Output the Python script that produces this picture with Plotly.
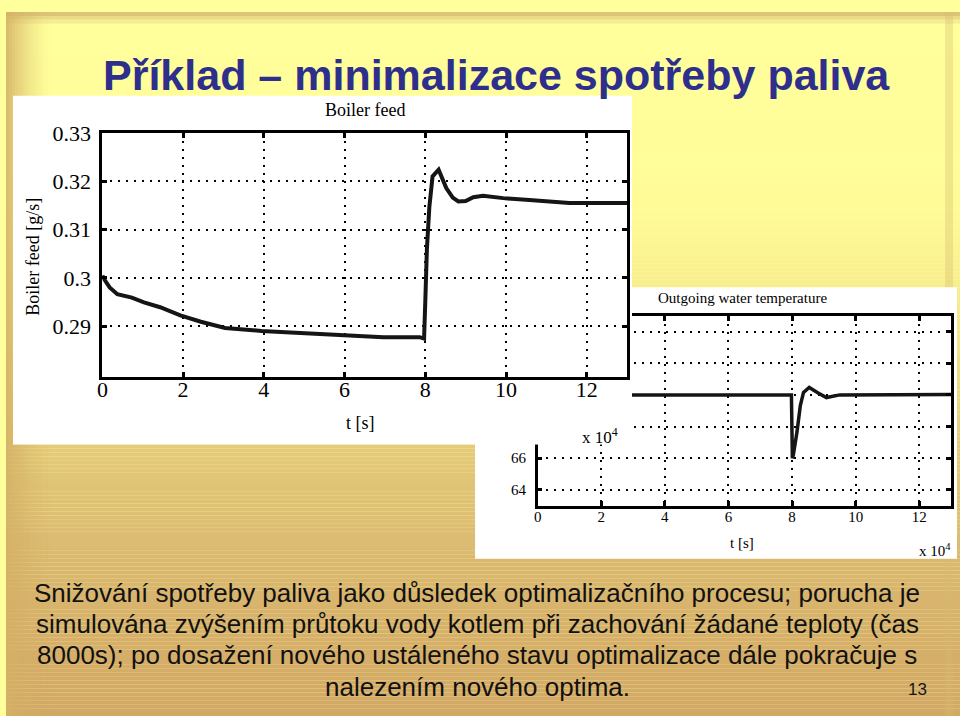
import plotly.graph_objects as go

W, H = 960, 716

# ---------------- data ----------------
# Boiler feed [g/s] vs t [x 1e4 s]
boiler_t = [0.0, 0.02, 0.18, 0.37, 0.73, 1.03, 1.43, 1.93, 2.44, 3.04, 3.94, 4.95,
            5.96, 6.96, 7.86, 7.97, 8.0, 8.04, 8.1, 8.18, 8.33, 8.52, 8.68, 8.82,
            9.0, 9.19, 9.43, 9.93, 10.58, 11.16, 11.57, 12.4, 13.0]
boiler_v = [0.3005, 0.300, 0.298, 0.2966, 0.2959, 0.2949, 0.2939, 0.2922, 0.2909,
            0.2896, 0.2890, 0.2885, 0.2880, 0.2877, 0.2877, 0.2874, 0.2950, 0.3060,
            0.3146, 0.3210, 0.3224, 0.3186, 0.3166, 0.3158, 0.3159, 0.3167, 0.3170,
            0.3165, 0.3161, 0.3158, 0.3155, 0.3155, 0.3155]

# Outgoing water temperature vs t [x 1e4 s]
temp_t = [0.0, 3.0, 6.8, 7.5, 7.9, 7.98, 8.01, 8.04, 8.155, 8.26, 8.36, 8.54,
          8.82, 9.08, 9.5, 11.0, 13.0]
temp_v = [70.0, 70.0, 70.0, 70.05, 70.05, 70.0, 66.0, 66.2, 67.66, 69.33, 70.16,
          70.47, 70.12, 69.83, 70.0, 70.02, 70.02]

t_ticks = [0, 2, 4, 6, 8, 10, 12]
boiler_ticks = [0.29, 0.30, 0.31, 0.32, 0.33]
boiler_ticktext = ["0.29", "0.3", "0.31", "0.32", "0.33"]
temp_ticks = [64, 66, 68, 70, 72, 74]
# labels of 68..74 are covered by the overlapping left picture in the slide
temp_ticktext = ["64", "66", "", "", "", ""]

slide_title = "Příklad – minimalizace spotřeby paliva"
body_lines = [
    "Snižování spotřeby paliva jako důsledek optimalizačního procesu; porucha je",
    "simulována zvýšením průtoku vody kotlem při zachování žádané teploty (čas",
    "8000s); po dosažení nového ustáleného stavu optimalizace dále pokračuje s",
    "nalezením nového optima.",
]
page_no = "13"

# ---------------- helpers ----------------
def px(x):
    return x / W

def py(y):
    return 1 - y / H

SERIF = "Liberation Serif, DejaVu Serif, serif"
SANS = "Liberation Sans, Arial, sans-serif"

def lerp(c1, c2, f):
    return tuple(round(a + (b - a) * f) for a, b in zip(c1, c2))

stops = [(0, (214, 186, 112)), (7, (238, 224, 138)), (14, (255, 255, 156)),
         (200, (255, 252, 152)), (300, (246, 234, 140)), (440, (228, 203, 122)),
         (560, (218, 184, 112)), (716, (210, 168, 102))]

def grad(y):
    for (y0, c0), (y1, c1) in zip(stops, stops[1:]):
        if y0 <= y <= y1:
            return lerp(c0, c1, (y - y0) / (y1 - y0) if y1 > y0 else 0)
    return stops[-1][1]

shapes = []
step = 4
for y0 in range(0, H, step):
    c = grad(y0 + step / 2)
    shapes.append(dict(type="rect", xref="paper", yref="paper", layer="below",
                       x0=0, x1=1, y0=py(y0 + step), y1=py(y0),
                       fillcolor="rgb(%d,%d,%d)" % c, line=dict(width=0)))
# left darker edge
for i in range(15):
    x0 = i * 3
    op = 0.85 * (1 - i / 15) ** 1.5
    shapes.append(dict(type="rect", xref="paper", yref="paper", layer="below",
                       x0=px(x0), x1=px(x0 + 3), y0=0, y1=1,
                       fillcolor="rgb(212,176,102)", opacity=op, line=dict(width=0)))
# right edge band
shapes.append(dict(type="rect", xref="paper", yref="paper", layer="below",
                   x0=px(945), x1=px(953), y0=0, y1=1,
                   fillcolor="rgb(214,186,112)", opacity=0.35, line=dict(width=0)))
# right image white box
shapes.append(dict(type="rect", xref="paper", yref="paper", layer="below",
                   x0=px(472), x1=px(957), y0=py(556), y1=py(280),
                   fillcolor="white", line=dict(width=0)))

fig = go.Figure()

# right chart (drawn first, partially hidden)
fig.add_trace(go.Scatter(x=temp_t, y=temp_v, mode="lines", xaxis="x", yaxis="y",
                         line=dict(color="#151515", width=3.5), hoverinfo="skip",
                         showlegend=False))
# occluding white box of the left image
fig.add_trace(go.Scatter(x=[0, 1, 1, 0, 0], y=[0, 0, 1, 1, 0], mode="lines",
                         fill="toself", fillcolor="white", line=dict(width=0),
                         xaxis="x2", yaxis="y2", hoverinfo="skip", showlegend=False))
# left chart
fig.add_trace(go.Scatter(x=boiler_t, y=boiler_v, mode="lines", xaxis="x3", yaxis="y3",
                         line=dict(color="#151515", width=4), hoverinfo="skip",
                         showlegend=False))

def axis(domain, rng, tickvals, size, lw, standoff, anchor, ticktext=None):
    d = dict(domain=domain, range=rng, tickmode="array", tickvals=tickvals,
             anchor=anchor,
             showline=True, linecolor="black", linewidth=lw, mirror="ticks",
             ticks="inside", ticklen=5, tickwidth=2.5, tickcolor="black",
             showgrid=True, gridcolor="black", griddash="2px,6px", gridwidth=1.6,
             zeroline=False, tickfont=dict(family=SERIF, size=size, color="black"),
             ticklabelstandoff=standoff, fixedrange=True)
    if ticktext is not None:
        d["ticktext"] = ticktext
    return d

annotations = []

def ann(text, x, y, size, family=SERIF, color="black", **kw):
    annotations.append(dict(text=text, x=px(x), y=py(y), xref="paper", yref="paper",
                            showarrow=False, font=dict(family=family, size=size, color=color),
                            xanchor="center", yanchor="middle", **kw))

# slide title
ann("<b>" + slide_title + "</b>", 494, 64, 43, family=SANS, color="#2E2F8C")
# left chart texts
ann("Boiler feed", 361, 100, 18)
ann("t [s]", 357, 418, 18)
ann("Boiler feed [g/s]", 27, 249, 18, textangle=-90)
ann("x 10<sup>4</sup>", 598, 431, 17)
# right chart texts
ann("Outgoing water temperature", 741, 291, 15)
ann("t [s]", 741, 540, 15)
ann("x 10<sup>4</sup>", 935, 547, 15)
# body text
for i, line in enumerate(body_lines):
    ann(line, 474, 591 + i * 31.7, 26, family=SANS, color="#111111")
ann(page_no, 917, 689, 17, family=SANS, color="#161616")

fig.update_layout(
    width=W, height=H, margin=dict(l=0, r=0, t=0, b=0),
    paper_bgcolor="rgb(255,255,156)", plot_bgcolor="rgba(0,0,0,0)",
    showlegend=False, shapes=shapes, annotations=annotations,
    xaxis=axis([px(535), px(951)], [0, 13], t_ticks, 15, 2.5, -4, "y"),
    yaxis=axis([py(502), py(309)], [63, 75], temp_ticks, 15, 2.5, 6, "x",
               ticktext=temp_ticktext),
    xaxis2=dict(domain=[px(7), px(630)], range=[0, 1], visible=False, fixedrange=True,
                anchor="y2"),
    yaxis2=dict(domain=[py(440), py(85)], range=[0, 1], visible=False, fixedrange=True,
                anchor="x2"),
    xaxis3=axis([px(97), px(625)], [0, 13], t_ticks, 22, 3, -9, "y3"),
    yaxis3=axis([py(371), py(123)], [0.2795, 0.33], boiler_ticks, 22, 3, 4, "x3",
                ticktext=boiler_ticktext),
)

fig.write_html("out.html")
